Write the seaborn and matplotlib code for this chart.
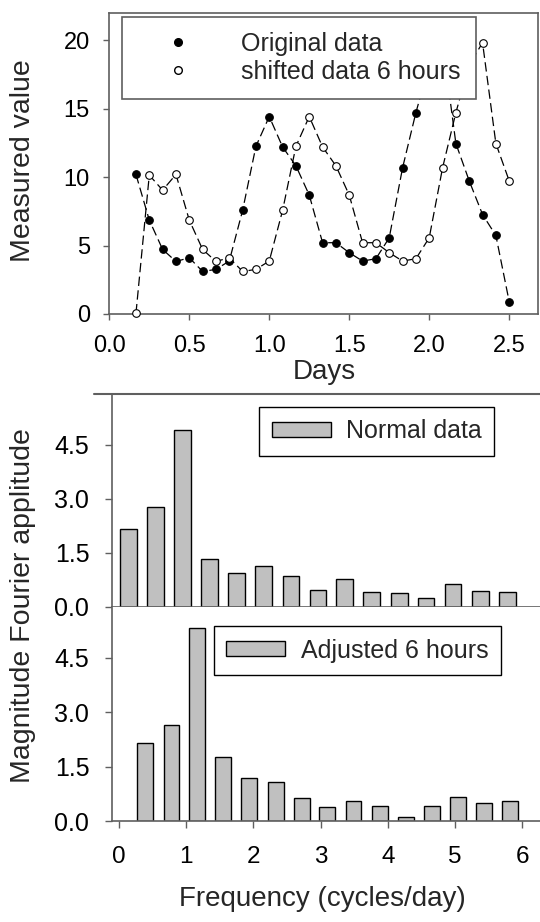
import numpy as np
import pandas as pd
import matplotlib
matplotlib.use("Agg")
import matplotlib.pyplot as plt
from matplotlib.lines import Line2D
import seaborn as sns

sns.set_theme(style="ticks")
plt.rcParams['font.family'] = ['Liberation Sans', 'DejaVu Sans']

# ---------------- data ----------------
hours = list(range(4, 61, 2))
days = [h / 24 for h in hours]
original = [10.2, 6.86, 4.72, 3.84, 4.11, 3.11, 3.26, 3.87, 7.57, 12.26,
            14.43, 12.21, 10.83, 8.69, 5.21, 5.21, 4.48, 3.87, 4.04, 5.57,
            10.68, 14.72, 18.2, 19.83, 12.46, 9.73, 7.27, 5.74, 0.9]
shifted = [0.05, 10.15, 9.05, 10.2, 6.86, 4.72, 3.84, 4.11, 3.11, 3.26,
           3.87, 7.57, 12.26, 14.43, 12.21, 10.83, 8.69, 5.21, 5.21, 4.48,
           3.87, 4.04, 5.57, 10.68, 14.72, 18.2, 19.83, 12.46, 9.73]

freq_normal = [0.14, 0.54, 0.94, 1.35, 1.75, 2.15, 2.56, 2.96, 3.36, 3.76,
               4.17, 4.57, 4.97, 5.38, 5.78]
amp_normal = [2.17, 2.76, 4.89, 1.34, 0.93, 1.14, 0.86, 0.48, 0.77, 0.41,
              0.40, 0.24, 0.64, 0.44, 0.41]

freq_adjusted = [0.39, 0.78, 1.16, 1.55, 1.94, 2.33, 2.72, 3.10, 3.49, 3.88,
                 4.27, 4.66, 5.04, 5.43, 5.82]
amp_adjusted = [2.15, 2.66, 5.33, 1.77, 1.19, 1.07, 0.64, 0.40, 0.57, 0.42,
                0.13, 0.42, 0.66, 0.50, 0.56]

top_yticks = [0, 5, 10, 15, 20]
top_xticks = [0.0, 0.5, 1.0, 1.5, 2.0, 2.5]
bar_yticks = [0.0, 1.5, 3.0, 4.5]
bar_xticks = [0, 1, 2, 3, 4, 5, 6]

# ---------------- styling ----------------
W, H = 540, 922
spine_c = '#5f5f5f'
bar_c = '#c0c0c0'

fig = plt.figure(figsize=(W / 100, H / 100), dpi=100)

def fx(px):
    return px / W

def fy(py):
    return 1 - py / H

ax1 = fig.add_axes([fx(109.3), fy(314), fx(538) - fx(109.3), fy(13) - fy(314)])
ax2 = fig.add_axes([fx(111.5), fy(607), 1 - fx(111.5), fy(394) - fy(607)])
ax3 = fig.add_axes([fx(111.5), fy(821.3), 1 - fx(111.5), fy(607) - fy(821.3)])

# ---------------- top: time series ----------------
df = pd.DataFrame({'days': days, 'original': original, 'shifted': shifted})
for col in ['original', 'shifted']:
    sns.lineplot(data=df, x='days', y=col, ax=ax1, color='black', lw=0.9,
                 zorder=2, legend=False)
for ln in ax1.get_lines():
    ln.set_dashes((7.5, 3.5))

sns.scatterplot(data=df, x='days', y='original', ax=ax1, color='black',
                edgecolor='black', linewidth=0.8, s=30, zorder=3, clip_on=False)
sns.scatterplot(data=df, x='days', y='shifted', ax=ax1, color='white',
                edgecolor='black', linewidth=0.8, s=30, zorder=3, clip_on=False)

ax1.set_xlim(0, 2.68)
ax1.set_ylim(0, 22)
ax1.set_xticks(top_xticks)
ax1.set_xticklabels([f'{v:.1f}' for v in top_xticks])
ax1.set_yticks(top_yticks)
ax1.set_yticklabels([str(v) for v in top_yticks])
ax1.tick_params(axis='both', direction='out', length=4, width=1,
                color=spine_c, labelsize=17, labelcolor='black')
ax1.tick_params(axis='y', pad=10)
ax1.tick_params(axis='x', pad=11)
for s in ax1.spines.values():
    s.set_visible(True)
    s.set_color(spine_c)
    s.set_linewidth(1.2)

ax1.set_xlabel('Days', fontsize=20, va='center')
ax1.xaxis.set_label_coords(0.501, -0.193)
ax1.set_ylabel('Measured value', fontsize=20.5, va='center', ha='center',
               rotation_mode='default')
ax1.yaxis.set_label_coords((23 - 109.3) / 428.7, 0.51)

handles = [
    Line2D([0], [0], marker='o', ls='none', markerfacecolor='black',
           markeredgecolor='black', markersize=5.5),
    Line2D([0], [0], marker='o', ls='none', markerfacecolor='white',
           markeredgecolor='black', markersize=5.5),
]
leg1 = ax1.legend(handles, ['Original data', 'shifted data 6 hours'],
                  loc='upper left', bbox_to_anchor=(0.029, 0.988),
                  borderaxespad=0, fontsize=18, frameon=True, fancybox=False,
                  edgecolor=spine_c, framealpha=1, handlelength=3.3,
                  handletextpad=0.87, labelspacing=0.15, borderpad=0.62,
                  numpoints=1)
leg1.get_frame().set_linewidth(1.2)
leg1.set_zorder(10)

# ---------------- bar charts ----------------
def bar_panel(ax, freq, amp, label, anchor):
    sns.barplot(x=freq, y=amp, ax=ax, native_scale=True, orient='x',
                width=0.62, color=bar_c, edgecolor='black', linewidth=1,
                saturation=1, label=label, errorbar=None)
    ax.set_xlim(-0.112, 6.265)
    ax.set_ylim(0, 5.9)
    ax.set_yticks(bar_yticks)
    ax.set_yticklabels([f'{v:.1f}' for v in bar_yticks])
    ax.tick_params(axis='both', direction='out', length=5, width=1,
                   color=spine_c, labelsize=18, labelcolor='black')
    ax.tick_params(axis='y', pad=11)
    for k in ['top', 'right']:
        ax.spines[k].set_visible(False)
    for k in ['left', 'bottom']:
        ax.spines[k].set_color(spine_c)
        ax.spines[k].set_linewidth(1.2)
    ax.set_ylabel('')
    ax.set_xlabel('')
    leg = ax.legend(loc='upper right', bbox_to_anchor=anchor, borderaxespad=0,
                    fontsize=18, frameon=True, fancybox=False,
                    edgecolor='black', framealpha=1, handlelength=2.35,
                    handleheight=0.52, handletextpad=0.62, borderpad=0.5)
    leg.get_frame().set_linewidth(1.0)

bar_panel(ax2, freq_normal, amp_normal, 'Normal data', (0.8934, 0.9404))
bar_panel(ax3, freq_adjusted, amp_adjusted, 'Adjusted 6 hours', (0.9083, 0.9113))

ax2.set_xticks(bar_xticks)
ax2.tick_params(axis='x', length=0, labelbottom=False)
ax3.set_xticks(bar_xticks)
ax3.set_xticklabels([str(v) for v in bar_xticks])
ax3.tick_params(axis='x', labelsize=17.5, pad=13)

ax3.set_xlabel('Frequency (cycles/day)', fontsize=20, va='center')
ax3.xaxis.set_label_coords(0.491, -0.362)

fig.text(fx(23), fy(606), 'Magnitude Fourier applitude', fontsize=20.5,
         rotation=90, ha='center', va='center')

fig.add_artist(Line2D([fx(94), 1.0], [fy(394), fy(394)],
                      transform=fig.transFigure, color=spine_c, lw=1.5))

fig.savefig('out.png', dpi=100)
